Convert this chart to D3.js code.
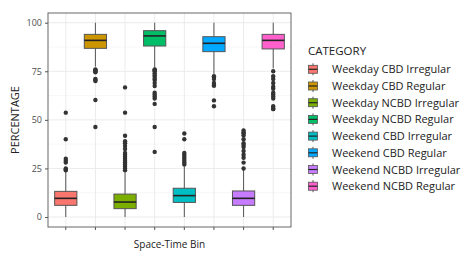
<!DOCTYPE html>
<html>
<head>
<meta charset="utf-8">
<script src="https://cdn.jsdelivr.net/npm/d3@7"></script>
<style>
  body { margin: 0; background: #fff; }
  text { font-family: "Open Sans", "Liberation Sans", sans-serif; }
</style>
</head>
<body>
<div id="chart"></div>
<script>
var categories = ["Weekday CBD Irregular", "Weekday CBD Regular", "Weekday NCBD Irregular", "Weekday NCBD Regular",
  "Weekend CBD Irregular", "Weekend CBD Regular", "Weekend NCBD Irregular", "Weekend NCBD Regular"];
var colors = ["#F8766D", "#CD9600", "#7CAE00", "#00BE67", "#00BFC4", "#00A9FF", "#C77CFF", "#FF61CC"];
var lowWhisker = [0, 77.4, 0, 76.8, 0, 73.6, 0, 76.5];
var q1 = [6.0, 86.8, 4.3, 88.0, 7.5, 85.1, 6.0, 86.5];
var median = [9.6, 90.9, 7.7, 93.2, 11.0, 89.4, 9.6, 90.9];
var q3 = [13.2, 94.0, 11.8, 95.9, 14.8, 92.8, 13.4, 94.0];
var highWhisker = [23.5, 100, 23, 100, 26, 100, 24.5, 100];
var outliers = [
  [24, 24.5, 25, 28, 29, 30, 40, 53.7],
  [76, 75.5, 75, 74.5, 71, 70.5, 70, 60.2, 46.3],
  [24, 25, 26, 27, 28, 29, 30, 31, 32, 33, 35, 36.5, 38, 39, 41.8, 53.7, 66.7],
  [76, 75.5, 75, 74, 73, 72, 71, 70.5, 69, 67.4, 64, 63, 62, 61, 58.2, 46.3, 33.5],
  [27, 28, 29, 30, 31, 32, 33, 40, 43],
  [72.5, 72, 71, 69, 68, 67.5, 60, 57],
  [25, 28, 30.5, 32, 34, 36, 37, 38, 40, 42, 43, 43.5, 44.5],
  [75, 72.5, 71, 69, 67, 66, 64, 63, 62, 61, 57, 56, 55.5]
];
var yTicks = [0, 25, 50, 75, 100];
var yMinor = [12.5, 37.5, 62.5, 87.5];

var width = 472, height = 258;
var panel = {left: 48, right: 291, top: 13, bottom: 227};

var svg = d3.select("#chart").append("svg")
  .attr("width", width)
  .attr("height", height);

var x = d3.scaleBand()
  .domain(categories)
  .range([panel.left, panel.right])
  .paddingOuter(0.1)
  .paddingInner(0);
var y = d3.scaleLinear()
  .domain([0, 100])
  .range([217, 22.7]);

var bw = x.bandwidth() * 0.75;
function cx(c) { return x(c) + x.bandwidth() / 2; }

// grid
var grid = svg.append("g");
grid.selectAll("line.minor").data(yMinor).enter().append("line")
  .attr("x1", panel.left).attr("x2", panel.right)
  .attr("y1", function (d) { return y(d); }).attr("y2", function (d) { return y(d); })
  .attr("stroke", "#f2f2f2").attr("stroke-width", 0.6);
grid.selectAll("line.major").data(yTicks).enter().append("line")
  .attr("x1", panel.left).attr("x2", panel.right)
  .attr("y1", function (d) { return y(d); }).attr("y2", function (d) { return y(d); })
  .attr("stroke", "#ebebeb").attr("stroke-width", 1);
grid.selectAll("line.vert").data(categories).enter().append("line")
  .attr("x1", cx).attr("x2", cx)
  .attr("y1", panel.top).attr("y2", panel.bottom)
  .attr("stroke", "#ebebeb").attr("stroke-width", 1);

// boxes
var boxes = svg.append("g").selectAll("g").data(categories).enter().append("g");
boxes.append("line")
  .attr("x1", cx).attr("x2", cx)
  .attr("y1", function (d, i) { return y(lowWhisker[i]); })
  .attr("y2", function (d, i) { return y(highWhisker[i]); })
  .attr("stroke", "#555").attr("stroke-width", 1);
boxes.append("rect")
  .attr("x", function (d) { return cx(d) - bw / 2; })
  .attr("width", bw)
  .attr("y", function (d, i) { return y(q3[i]); })
  .attr("height", function (d, i) { return y(q1[i]) - y(q3[i]); })
  .attr("fill", function (d, i) { return colors[i]; })
  .attr("stroke", "#555").attr("stroke-width", 1);
boxes.append("line")
  .attr("x1", function (d) { return cx(d) - bw / 2; })
  .attr("x2", function (d) { return cx(d) + bw / 2; })
  .attr("y1", function (d, i) { return y(median[i]); })
  .attr("y2", function (d, i) { return y(median[i]); })
  .attr("stroke", "#222").attr("stroke-width", 1.6);
boxes.selectAll("circle").data(function (d, i) {
    return outliers[i].map(function (v) { return {c: d, v: v}; });
  }).enter().append("circle")
  .attr("cx", function (d) { return cx(d.c); })
  .attr("cy", function (d) { return y(d.v); })
  .attr("r", 2.2)
  .attr("fill", "#333");

// panel border
svg.append("rect")
  .attr("x", panel.left).attr("y", panel.top)
  .attr("width", panel.right - panel.left).attr("height", panel.bottom - panel.top)
  .attr("fill", "none").attr("stroke", "#666").attr("stroke-width", 1);

// axes
var yAxis = svg.append("g").attr("transform", "translate(" + panel.left + ",0)")
  .call(d3.axisLeft(y).tickValues(yTicks).tickSize(3).tickPadding(3));
yAxis.select(".domain").remove();
yAxis.selectAll("line").attr("stroke", "#555");
yAxis.selectAll("text").attr("fill", "#4d4d4d").style("font-size", "9px");

var xAxis = svg.append("g").attr("transform", "translate(0," + panel.bottom + ")")
  .call(d3.axisBottom(x).tickSize(3).tickFormat(""));
xAxis.select(".domain").remove();
xAxis.selectAll("line").attr("stroke", "#555");

svg.append("text")
  .attr("transform", "translate(19," + ((panel.top + panel.bottom) / 2) + ") rotate(-90)")
  .attr("text-anchor", "middle")
  .attr("fill", "#222")
  .style("font-size", "11px")
  .text("PERCENTAGE");
svg.append("text")
  .attr("x", (panel.left + panel.right) / 2)
  .attr("y", 248)
  .attr("text-anchor", "middle")
  .attr("fill", "#222")
  .style("font-size", "10px")
  .text("Space-Time Bin");

// legend
var legend = svg.append("g").attr("transform", "translate(308,0)");
legend.append("text")
  .attr("x", 0).attr("y", 55)
  .attr("fill", "#222")
  .style("font-size", "11.5px")
  .text("CATEGORY");
var items = legend.selectAll("g.item").data(categories).enter().append("g")
  .attr("transform", function (d, i) { return "translate(0," + (69.3 + i * 16.7) + ")"; });
items.append("line")
  .attr("x1", 5).attr("x2", 5).attr("y1", -6).attr("y2", 6)
  .attr("stroke", "#555");
items.append("rect")
  .attr("x", 0.5).attr("y", -4).attr("width", 9).attr("height", 8)
  .attr("fill", function (d, i) { return colors[i]; })
  .attr("stroke", "#555").attr("stroke-width", 0.8);
items.append("line")
  .attr("x1", 0.5).attr("x2", 9.5).attr("y1", 0).attr("y2", 0)
  .attr("stroke", "#222").attr("stroke-width", 1.2);
items.append("text")
  .attr("x", 24).attr("y", 4)
  .attr("fill", "#222")
  .style("font-size", "11px")
  .text(function (d) { return d; });
</script>
</body>
</html>
